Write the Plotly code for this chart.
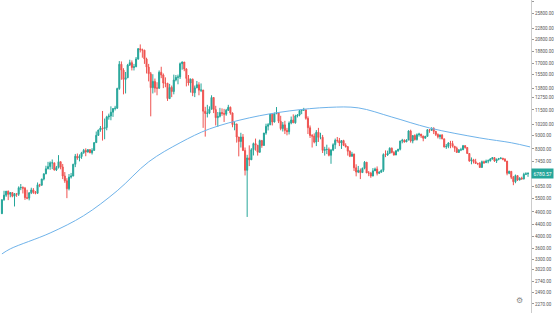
import math
import pandas as pd
import plotly.graph_objects as go

start_date = "2017-10-12"
end_date = "2018-06-20"
dates = pd.date_range(start_date, end_date, freq="D")

opens = [
    4830, 5430, 5640, 5830, 5680, 5760, 5590, 5710, 5680, 6000, 6010, 5980, 5520, 5500, 5750, 5890, 5770, 5730, 6150, 6130,
    6450, 6740, 7030, 7160, 7390, 7390, 6960, 7100, 7460, 7140, 6620, 6360, 5950, 6560, 6620, 7300, 7810, 7700, 7790, 8040,
    8200, 8090, 8250, 8040, 8200, 8750, 9300, 9720, 9890, 9840,
    9930, 10850, 10930, 11290, 11640, 11670, 13750, 16850, 16050, 14840, 15060, 16730, 17080, 16400, 16500, 17600, 19190,
    19030, 18960, 17600, 16450, 15560, 13850, 14600, 13800, 13800, 15760, 15400, 14400, 14380, 12640,
    13880, 13410, 14770, 15100, 15160, 16930, 17170, 16200, 14970, 14400, 14870, 13270, 13830, 14200, 13570, 13580, 11380,
    11160, 11200, 11570, 12760, 11530, 10780, 10900, 11250, 11170, 11100, 11470, 11760, 11210, 10180,
    10220, 9170, 8830, 9170, 8200, 6940, 7700, 7580, 8240, 8680, 8560, 8070, 8900, 8540, 9480, 10030, 10170, 11100, 10400,
    11150, 11230, 10460, 9840, 10150, 9690, 9590, 10310, 10570,
    10330, 10930, 11020, 11440, 11490, 11510, 10720, 9910, 9290, 9240, 8790, 9540, 9140, 9150, 8200, 8260, 8270, 7870, 8220,
    8600, 8920, 8900, 8720, 8900, 8550, 8460, 8140, 7800, 7950, 7090, 6840,
    6930, 6810, 7060, 7430, 6790, 6780, 6620, 6910, 7020, 6770, 6830, 6940, 7920, 7890, 8000, 8350, 8060, 7890, 8170, 8280,
    8860, 8920, 8800, 8940, 9650, 8870, 9280, 8980, 9350, 9400,
    9250, 9080, 9220, 9740, 9700, 9860, 9620, 9370, 9190, 9320, 9030, 8440, 8480, 8720, 8680, 8490, 8350, 8060, 8240, 8240,
    8530, 8400, 7990, 7510, 7580, 7460, 7350, 7350, 7110, 7460, 7400,
    7500, 7520, 7630, 7720, 7500, 7620, 7650, 7680, 7620, 7500, 6770, 6880, 6550, 6310, 6640, 6400, 6500, 6460, 6710, 6740,
]
highs = [
    5440, 5850, 5840, 5860, 5780, 5790, 5740, 5730, 6070, 6190, 6070, 6040, 5900, 5780, 6000, 5980, 5840, 6270, 6200, 6470,
    6760, 7210, 7450, 7480, 7600, 7390, 7200, 7880, 7460, 7320, 6840, 6500, 6730, 6790, 7330, 7960, 7990, 7930, 8100, 8300,
    8340, 8290, 8290, 8350, 8760, 9600, 9750, 10050, 11400, 10700,
    10950, 11150, 11850, 11650, 11900, 13850, 17300, 17250, 16300, 15800, 16900, 17500, 17400, 16900, 17900, 19300, 19890,
    19200, 19000, 17800, 16900, 15800, 15500, 14950, 14500, 16000, 16500, 15600, 15100, 14400, 14300,
    14100, 15450, 15400, 15450, 17100, 17250, 17150, 16300, 15400, 14950, 14950, 14100, 14650, 14500, 14350, 13600, 11800,
    12000, 11850, 13000, 12780, 11900, 11300, 11700, 11650, 11600, 11600, 12000, 11830, 11250, 10400,
    10260, 9100, 9500, 9400, 8400, 7900, 8550, 8350, 8750, 9050, 8580, 8980, 8950, 9490, 10250, 10300, 11100, 11100, 11250,
    11780, 11250, 10950, 10400, 10500, 9900, 10450, 10880, 11080,
    11050, 11100, 11500, 11530, 11700, 11530, 10900, 10100, 9400, 9450, 9720, 9900, 9500, 9330, 8450, 8600, 8400, 8300, 8700,
    9050, 9170, 9100, 8920, 8960, 8700, 8500, 8200, 8100, 7980, 7300, 7200,
    7050, 7100, 7500, 7420, 6900, 6850, 7070, 7100, 7170, 6890, 6990, 8000, 8200, 8180, 8410, 8400, 8150, 8210, 8300, 8900,
    9030, 9000, 9000, 9700, 9750, 9300, 9380, 9450, 9500, 9400,
    9260, 9260, 9800, 9800, 9950, 9950, 9640, 9450, 9370, 9400, 9040, 8650, 8780, 8880, 8880, 8500, 8460, 8270, 8380, 8580,
    8560, 8420, 8020, 7730, 7640, 7640, 7390, 7440, 7530, 7530, 7590,
    7600, 7690, 7750, 7740, 7650, 7700, 7750, 7700, 7680, 7500, 6920, 6880, 6620, 6700, 6650, 6550, 6580, 6800, 6830, 6800,
]
lows = [
    4820, 5380, 5560, 5410, 5540, 5540, 5130, 5560, 5600, 5880, 5720, 5420, 5450, 5400, 5690, 5700, 5680, 5700, 6030, 6100,
    6380, 6720, 7000, 6970, 7010, 6930, 6900, 7050, 7000, 6450, 6250, 5500, 5870, 6480, 6600, 7130, 7580, 7480, 7640, 7970,
    7810, 8050, 8010, 7920, 8180, 8740, 9250, 9580, 8900, 9000,
    9700, 10600, 10550, 10850, 11450, 11600, 13600, 14800, 13100, 13200, 15000, 16600, 16000, 16000, 16450, 17500, 18600,
    17800, 16900, 15600, 14600, 10900, 13200, 13300, 13000, 13700, 15000, 13800, 13900, 12400, 12600,
    12800, 13100, 14600, 14250, 14900, 16100, 15900, 14000, 14100, 13300, 12900, 12800, 13800, 13000, 13350, 9900, 9200,
    10800, 11100, 11550, 11200, 10100, 9980, 10800, 10950, 10400, 10950, 11400, 11050, 9950, 9700,
    8750, 7800, 8400, 8150, 6650, 4700, 7190, 7640, 7860, 8180, 7850, 8100, 8380, 8540, 9350, 9690, 10120, 10100, 10350,
    11100, 10300, 9700, 9600, 9400, 9300, 9370, 10200, 10300,
    10250, 10800, 10900, 11100, 11400, 10600, 9400, 9100, 8400, 8700, 8500, 8800, 9000, 8020, 7850, 7950, 7800, 7330, 8150,
    8300, 8750, 8500, 8300, 8500, 8400, 7850, 7750, 7800, 6900, 6600, 6780,
    6450, 6800, 7000, 6790, 6610, 6520, 6600, 6950, 6650, 6730, 6840, 6850, 7750, 7830, 7990, 8000, 7850, 7880, 8100, 8200,
    8700, 8750, 8800, 8940, 8750, 8700, 8900, 8900, 9200, 9100,
    8850, 9050, 9200, 9500, 9650, 9400, 9250, 9060, 9000, 9000, 8400, 8300, 8350, 8350, 8400, 8100, 8050, 8050, 8150, 8230,
    8320, 7970, 7450, 7300, 7350, 7320, 7250, 7080, 7100, 7320, 7380,
    7360, 7470, 7600, 7450, 7380, 7550, 7640, 7550, 7450, 6660, 6720, 6450, 6130, 6230, 6350, 6380, 6420, 6430, 6670, 6570,
]
closes = [
    5430, 5640, 5830, 5680, 5760, 5590, 5710, 5680, 6000, 6010, 5980, 5520, 5500, 5750, 5890, 5770, 5730, 6150, 6130, 6450,
    6740, 7030, 7160, 7390, 7390, 6960, 7100, 7460, 7140, 6620, 6360, 5950, 6560, 6620, 7300, 7810, 7700, 7790, 8040, 8200,
    8090, 8250, 8040, 8200, 8750, 9300, 9720, 9890, 9840, 9930,
    10850, 10930, 11290, 11640, 11670, 13750, 16850, 16050, 14840, 15060, 16730, 17080, 16400, 16500, 17600, 19190, 19030,
    18960, 17600, 16450, 15560, 13850, 14600, 13800, 13800, 15760, 15400, 14400, 14380, 12640, 13880,
    13410, 14770, 15100, 15160, 16930, 17170, 16200, 14970, 14400, 14870, 13270, 13830, 14200, 13570, 13580, 11380, 11160,
    11200, 11570, 12760, 11530, 10780, 10900, 11250, 11170, 11100, 11470, 11760, 11210, 10180, 10220,
    9170, 8830, 9170, 8200, 6940, 7700, 7580, 8240, 8680, 8560, 8070, 8900, 8540, 9480, 10030, 10170, 11100, 10400, 11150,
    11230, 10460, 9840, 10150, 9690, 9590, 10310, 10570, 10330,
    10930, 11020, 11440, 11490, 11510, 10720, 9910, 9290, 9240, 8790, 9540, 9140, 9150, 8200, 8260, 8270, 7870, 8220, 8600,
    8920, 8900, 8720, 8900, 8550, 8460, 8140, 7800, 7950, 7090, 6840, 6930,
    6810, 7060, 7430, 6790, 6780, 6620, 6910, 7020, 6770, 6830, 6940, 7920, 7890, 8000, 8350, 8060, 7890, 8170, 8280, 8860,
    8920, 8800, 8940, 9650, 8870, 9280, 8980, 9350, 9400, 9250,
    9080, 9220, 9740, 9700, 9860, 9620, 9370, 9190, 9320, 9030, 8440, 8480, 8720, 8680, 8490, 8350, 8060, 8240, 8240, 8530,
    8400, 7990, 7510, 7580, 7460, 7350, 7350, 7110, 7460, 7400, 7500,
    7520, 7630, 7720, 7500, 7620, 7650, 7680, 7620, 7500, 6770, 6880, 6550, 6310, 6640, 6400, 6500, 6460, 6710, 6740, 6780.57,
]

ma_dates = ["2017-10-12", "2017-10-16", "2017-11-04", "2017-11-20", "2017-12-06", "2017-12-21", "2018-01-05",
            "2018-01-19", "2018-02-07", "2018-02-26", "2018-03-17", "2018-03-31", "2018-04-16", "2018-05-04",
            "2018-05-28", "2018-06-12", "2018-06-21"]
ma_values = [3450, 3600, 4110, 4750, 5850, 7450, 8740, 9810, 10760, 11400, 11750, 11700, 10840, 9890, 9100, 8740, 8440]

tick_values = [28500, 25800, 22800, 20800, 18800, 17000, 15500, 13800, 12750, 11500, 10200, 9300, 8300, 7450,
               6050, 5500, 4900, 4400, 4000, 3600, 3300, 3020, 2740, 2490, 2270]
tick_labels = [f"{v:.2f}" for v in tick_values]
last_price = closes[-1]

UP = "#26a69a"
DOWN = "#ef5350"

fig = go.Figure()
fig.add_trace(go.Scatter(
    x=ma_dates, y=ma_values, mode="lines",
    line=dict(color="#6fb3ea", width=1, shape="spline", smoothing=1.0),
    hoverinfo="skip", showlegend=False,
))
fig.add_trace(go.Candlestick(
    x=dates, open=opens, high=highs, low=lows, close=closes,
    increasing=dict(line=dict(color=UP, width=1), fillcolor=UP),
    decreasing=dict(line=dict(color=DOWN, width=1), fillcolor=DOWN),
    whiskerwidth=0, showlegend=False,
))

# price tag on the right axis (annotation y on a log axis is given in log10 units)
fig.add_annotation(
    x=1, xref="paper", xanchor="left", y=math.log10(last_price), yref="y", yanchor="middle",
    text=f"{last_price:.2f}", showarrow=False,
    font=dict(size=5, color="white", family="Roboto"),
    bgcolor=UP, borderpad=1.5,
)
fig.add_annotation(
    x=1.0 - 6 / 531, xref="paper", xanchor="right", y=6 / 313, yref="paper",
    text="⚙", showarrow=False, font=dict(size=8, color="#888888"),
)

fig.update_layout(
    width=554, height=313,
    margin=dict(l=0, r=23, t=0, b=0),
    paper_bgcolor="white", plot_bgcolor="white",
    showlegend=False,
    xaxis=dict(
        type="date", range=["2017-10-11 02:00", "2018-06-21 10:00"],
        visible=False, rangeslider=dict(visible=False), showgrid=False,
    ),
    yaxis=dict(
        type="log", side="right", range=[3.3233, 4.4599],
        tickmode="array", tickvals=tick_values, ticktext=tick_labels,
        tickfont=dict(size=4.5, color="#555555", family="Roboto"),
        ticks="outside", ticklen=2, tickcolor="#999999", tickwidth=1,
        showline=True, linecolor="#cccccc", linewidth=1,
        showgrid=False, zeroline=False,
    ),
)

fig.write_html("out.html")
